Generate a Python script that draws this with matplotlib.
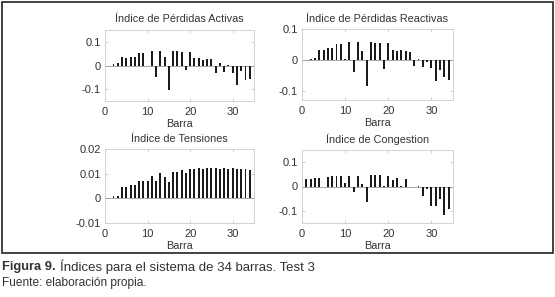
import matplotlib
matplotlib.use("Agg")
import matplotlib.pyplot as plt
from matplotlib.patches import Rectangle
import numpy as np

plt.rcParams['font.family'] = ['Liberation Sans', 'DejaVu Sans']

barras = np.arange(1, 35)

# Índice de Pérdidas Activas
activas = [0.0, 0.007, 0.010, 0.035, 0.032, 0.038, 0.038, 0.052, 0.052, -0.003,
           0.060, -0.050, 0.060, 0.037, -0.105, 0.060, 0.060, 0.055, -0.017, 0.055,
           0.030, 0.030, 0.025, 0.028, 0.028, -0.030, 0.010, -0.028, 0.003, -0.030,
           -0.082, -0.022, -0.062, -0.058]

# Índice de Pérdidas Reactivas
reactivas = [0.0, 0.004, 0.006, 0.033, 0.033, 0.037, 0.039, 0.051, 0.051, 0.002,
             0.058, -0.039, 0.058, 0.028, -0.084, 0.058, 0.055, 0.055, -0.029, 0.055,
             0.033, 0.029, 0.031, 0.029, 0.026, -0.020, 0.003, -0.022, -0.006, -0.025,
             -0.067, -0.033, -0.054, -0.064]

# Índice de Tensiones
tensiones = [0.0, 0.0008, 0.0010, 0.0047, 0.0047, 0.0053, 0.0053, 0.0069, 0.0069, 0.0069,
             0.0092, 0.0069, 0.0101, 0.0088, 0.0066, 0.0105, 0.0108, 0.0116, 0.0101, 0.0117,
             0.0117, 0.0121, 0.0118, 0.0121, 0.0121, 0.0121, 0.0120, 0.0121, 0.0118, 0.0121,
             0.0118, 0.0118, 0.0118, 0.0114]

# Índice de Congestion
congestion = [0.029, 0.030, 0.033, 0.036, 0.0, 0.041, 0.043, 0.044, 0.045, 0.014,
              0.045, -0.023, 0.045, 0.010, -0.063, 0.048, 0.048, 0.048, 0.002, 0.044,
              0.026, 0.034, 0.001, 0.029, -0.003, -0.002, 0.004, -0.040, -0.012, -0.079,
              -0.079, -0.050, -0.119, -0.092]

W, H = 555, 297
fig = plt.figure(figsize=(W / 100, H / 100), dpi=100)
fig.patch.set_facecolor('white')

def px_axes(x0, y0, x1, y1):
    return fig.add_axes([x0 / W, 1 - y1 / H, (x1 - x0) / W, (y1 - y0) / H])

# outer frame
fig.patches.append(Rectangle((1.5 / W, 1 - 253 / H), 551 / W, 251.5 / H,
                             transform=fig.transFigure, fill=False,
                             edgecolor='#222222', linewidth=1.2))

panels = [
    ((105, 30, 254, 101), activas, 'Índice de Pérdidas Activas', (-0.15, 0.15), [-0.1, 0, 0.1], 6),
    ((302, 29, 453, 100), reactivas, 'Índice de Pérdidas Reactivas', (-0.13, 0.1), [-0.1, 0, 0.1], 5),
    ((105, 149, 254, 223), tensiones, 'Índice de Tensiones', (-0.01, 0.02), [-0.01, 0, 0.01, 0.02], 5),
    ((302, 150, 453, 223), congestion, 'Índice de Congestion', (-0.15, 0.15), [-0.1, 0, 0.1], 5),
]

for box, vals, title, ylim, yt, tpad in panels:
    ax = px_axes(*box)
    ax.bar(barras, vals, width=0.45, color='#1a1a1a', zorder=3)
    ax.axhline(0, color='#999999', linewidth=0.6, zorder=2)
    ax.set_xlim(0, 35)
    ax.set_ylim(*ylim)
    ax.set_xticks([0, 10, 20, 30])
    ax.set_yticks(yt)
    ax.set_yticklabels(['0' if v == 0 else ('%g' % v) for v in yt])
    ax.tick_params(direction='in', length=2, width=0.5, color='#bbbbbb',
                   labelsize=8, labelcolor='#333333', top=True, right=True)
    ax.tick_params(axis='x', pad=4)
    ax.tick_params(axis='y', pad=3)
    for s in ax.spines.values():
        s.set_color('#cccccc')
        s.set_linewidth(0.6)
    ax.set_title(title, fontsize=7.8, color='#333333', pad=tpad)
    ax.set_xlabel('Barra', fontsize=7.8, color='#333333', labelpad=1.5)

fig.text(2 / W, 1 - 267 / H, 'Figura 9.', fontsize=9.3, fontweight='bold',
         color='#333333', va='center', ha='left')
fig.text(60 / W, 1 - 267 / H, 'Índices para el sistema de 34 barras. Test 3', fontsize=9.5,
         color='#333333', va='center', ha='left')
fig.text(2 / W, 1 - 283 / H, 'Fuente: elaboración propia.', fontsize=8.6,
         color='#333333', va='center', ha='left')

fig.savefig('out.png', dpi=100)
